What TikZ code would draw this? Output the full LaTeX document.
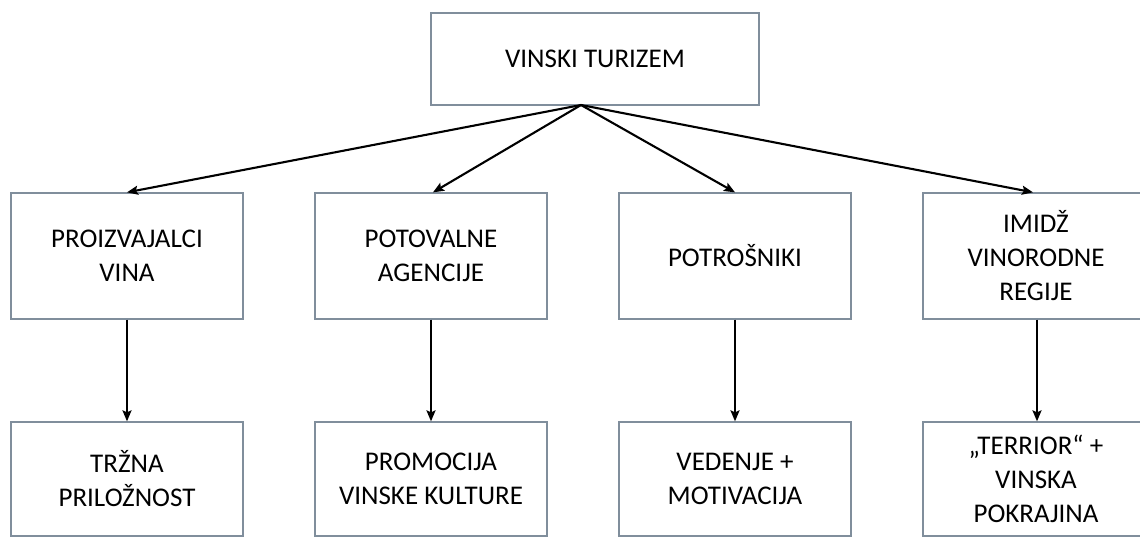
\documentclass[tikz,border=0pt]{standalone}
\usepackage{fontspec}
\setmainfont{Carlito}
\usetikzlibrary{arrows.meta}
\definecolor{boxline}{RGB}{128,142,156}
\tikzset{
  box/.style={draw=boxline, line width=1.3pt, rectangle, align=center,
    font=\fontsize{27}{34}\selectfont, inner sep=0pt},
  toprow/.style={box, minimum width=232pt, minimum height=126pt},
  botrow/.style={box, minimum width=232pt, minimum height=114pt},
  conn/.style={line width=2.1pt, -{Stealth[length=11pt,width=9pt,inset=2pt]}}
}
\begin{document}
\begin{tikzpicture}[x=1pt,y=-1pt]
\clip (0,0) rectangle (1140,538);
\useasboundingbox (0,0) rectangle (1140,538);
\node[box, minimum width=328pt, minimum height=92pt] (top) at (595,59) {VINSKI TURIZEM};
\coordinate (apex) at (581,105);
\node[toprow] (r1) at (127,256) {PROIZVAJALCI\\VINA};
\node[toprow] (r2) at (431,256) {POTOVALNE\\AGENCIJE};
\node[toprow] (r3) at (735,256) {POTROŠNIKI};
\node[toprow, minimum width=226pt] (r4) at (1036,256) {IMIDŽ\\VINORODNE\\REGIJE};
\node[botrow] (b1) at (127,479) {TRŽNA\\PRILOŽNOST};
\node[botrow] (b2) at (431,479) {PROMOCIJA\\VINSKE KULTURE};
\node[botrow] (b3) at (735,479) {VEDENJE +\\MOTIVACIJA};
\node[botrow, minimum width=226pt] (b4) at (1036,479) {„TERRIOR“ +\\VINSKA\\POKRAJINA};
\draw[conn] (apex) -- (r1.north);
\draw[conn] (apex) -- ([xshift=2pt]r2.north);
\draw[conn] (apex) -- (r3.north);
\draw[conn] (apex) -- ([xshift=-3pt]r4.north);
\draw[conn] (r1.south) -- (b1.north);
\draw[conn] (r2.south) -- (b2.north);
\draw[conn] (r3.south) -- (b3.north);
\draw[conn] ([xshift=1pt]r4.south) -- ([xshift=1pt]b4.north);
\end{tikzpicture}
\end{document}
